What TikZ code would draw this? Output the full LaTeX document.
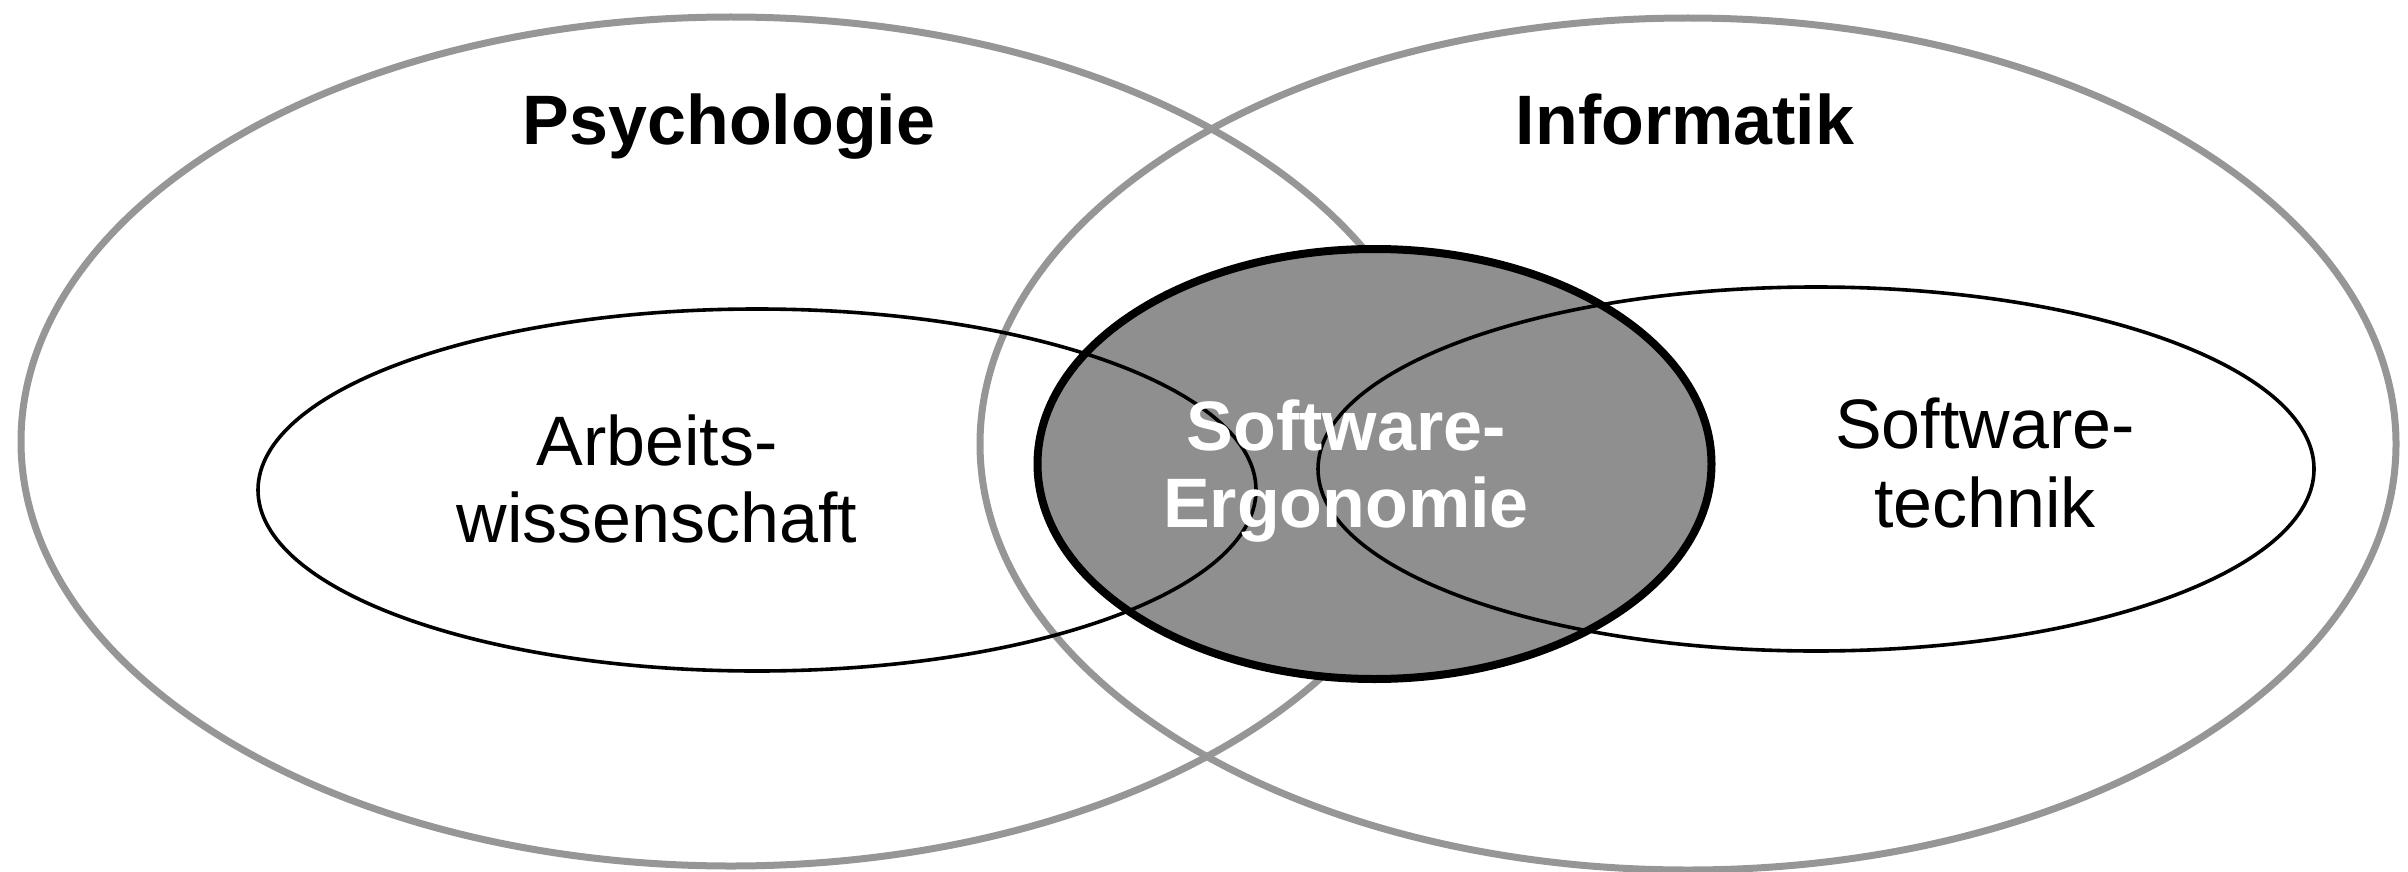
\documentclass[tikz,border=0pt]{standalone}
\usepackage{fontspec}
\setmainfont{Liberation Sans}
\definecolor{ringgray}{RGB}{150,150,150}
\definecolor{coregray}{RGB}{143,143,143}
\begin{document}
\begin{tikzpicture}[x=0.5pt,y=-0.5pt,
  ring/.style={draw=ringgray,line width=3.5pt},
  innerring/.style={draw=black,line width=1.8pt},
  core/.style={fill=coregray,draw=black,line width=4pt},
  lbl/.style={anchor=base,inner sep=0pt,font=\fontsize{35}{42}\selectfont},
  head/.style={anchor=base,inner sep=0pt,font=\fontsize{35}{42}\selectfont\bfseries}]
\useasboundingbox (0,0) rectangle (2408,872);
% outer rings
\draw[ring] (731,441.5) ellipse [x radius=710, y radius=424.5];
\draw[ring] (1688,444) ellipse [x radius=708, y radius=426];
% core
\draw[core] (1374.5,464) ellipse [x radius=337, y radius=215];
% inner rings
\draw[innerring] (757,490) ellipse [x radius=499, y radius=181];
\draw[innerring] (1816,469) ellipse [x radius=498, y radius=182];
% labels
\node[head] (psy) at (729,145) {Psychologie};
\node[head] (inf) at (1685,145) {Informatik};
\node[lbl] (aw1) at (657,465) {Arbeits-};
\node[lbl] (aw2) at (657,542) {wissenschaft};
\node[lbl] (st1) at (1985,448) {Software-};
\node[lbl] (st2) at (1985,527) {technik};
\node[head,text=white] (se1) at (1346,450) {Software-};
\node[head,text=white] (se2) at (1346,527) {Ergonomie};
\end{tikzpicture}
\end{document}
